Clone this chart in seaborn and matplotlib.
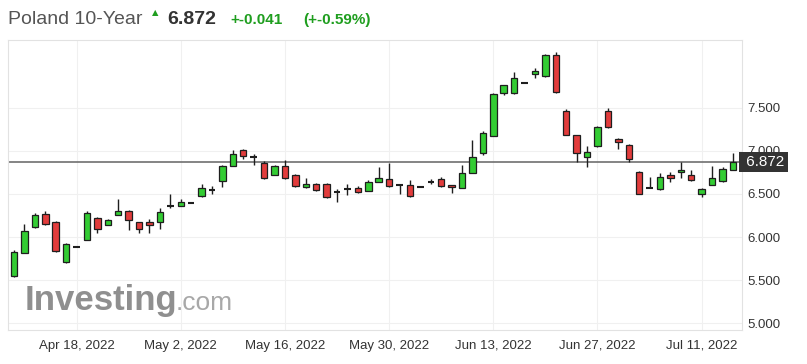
#!/usr/bin/env python3
import pandas as pd
import seaborn as sns
import matplotlib.pyplot as plt

# Daily candles, Poland 10-year yield
opens = [5.547, 5.814, 6.116, 6.267, 6.174, 5.709, 5.884, 5.965, 6.221, 6.140,
         6.256, 6.302, 6.174, 6.174, 6.174, 6.360, 6.360, 6.395, 6.477, 6.547,
         6.651, 6.826, 7.012, 6.930, 6.860, 6.721, 6.826, 6.721, 6.581, 6.616,
         6.616, 6.523, 6.558, 6.570, 6.535, 6.640, 6.674, 6.605, 6.605, 6.581,
         6.640, 6.674, 6.605, 6.570, 6.744, 6.977, 7.174, 7.674, 7.674, 7.791,
         7.895, 7.872, 8.116, 7.465, 7.186, 6.930, 7.058, 7.465, 7.140, 7.070,
         6.756, 6.570, 6.558, 6.721, 6.756, 6.721, 6.500, 6.605, 6.651, 6.779]
highs = [5.849, 6.151, 6.280, 6.302, 6.190, 5.930, 5.884, 6.300, 6.230, 6.205,
         6.442, 6.310, 6.180, 6.209, 6.337, 6.500, 6.442, 6.395, 6.616, 6.593,
         6.835, 7.010, 7.020, 6.965, 6.884, 6.840, 6.895, 6.730, 6.686, 6.625,
         6.625, 6.558, 6.616, 6.593, 6.663, 6.814, 6.860, 6.616, 6.663, 6.581,
         6.674, 6.700, 6.610, 6.837, 7.128, 7.233, 7.670, 7.770, 7.919, 7.791,
         7.965, 8.128, 8.151, 7.490, 7.190, 7.058, 7.285, 7.500, 7.150, 7.080,
         6.770, 6.698, 6.744, 6.756, 6.872, 6.779, 6.570, 6.826, 6.814, 6.977]
lows = [5.535, 5.810, 6.105, 6.140, 5.830, 5.700, 5.884, 5.960, 6.047, 6.135,
        6.250, 6.081, 6.047, 6.047, 6.093, 6.337, 6.355, 6.395, 6.470, 6.500,
        6.580, 6.820, 6.907, 6.837, 6.674, 6.715, 6.680, 6.585, 6.570, 6.540,
        6.455, 6.407, 6.488, 6.515, 6.530, 6.635, 6.585, 6.500, 6.470, 6.581,
        6.616, 6.585, 6.512, 6.565, 6.740, 6.953, 7.170, 7.651, 7.663, 7.791,
        7.849, 7.865, 7.674, 7.180, 6.872, 6.814, 7.050, 7.270, 7.023, 6.872,
        6.495, 6.570, 6.550, 6.640, 6.686, 6.655, 6.465, 6.600, 6.645, 6.775]
closes = [5.826, 6.070, 6.256, 6.151, 5.837, 5.919, 5.884, 6.279, 6.093, 6.198,
          6.302, 6.198, 6.093, 6.140, 6.291, 6.360, 6.407, 6.395, 6.570, 6.547,
          6.826, 6.965, 6.942, 6.930, 6.686, 6.826, 6.686, 6.593, 6.616, 6.547,
          6.465, 6.523, 6.558, 6.523, 6.640, 6.686, 6.593, 6.605, 6.477, 6.581,
          6.640, 6.593, 6.581, 6.744, 6.930, 7.209, 7.663, 7.767, 7.849, 7.791,
          7.930, 8.116, 7.686, 7.186, 6.977, 6.988, 7.279, 7.279, 7.105, 6.907,
          6.500, 6.570, 6.698, 6.686, 6.779, 6.663, 6.558, 6.686, 6.791, 6.872]

tick_dates = ['2022-04-18', '2022-05-02', '2022-05-16', '2022-05-30',
              '2022-06-13', '2022-06-27', '2022-07-11']
tick_labels = ['Apr 18, 2022', 'May 2, 2022', 'May 16, 2022', 'May 30, 2022',
               'Jun 13, 2022', 'Jun 27, 2022', 'Jul 11, 2022']
y_ticks = [5.0, 5.5, 6.0, 6.5, 7.0, 7.5]
last_price = 6.872

df = pd.DataFrame({'open': opens, 'high': highs, 'low': lows, 'close': closes})
df['date'] = pd.bdate_range('2022-04-08', periods=len(df))
df['x'] = range(len(df))
df['bottom'] = df[['open', 'close']].min(axis=1)
df['height'] = (df['close'] - df['open']).abs()

green, red = '#33cc33', '#e23c3c'
df['color'] = ['black' if c == o else (green if c > o else red)
               for o, c in zip(df['open'], df['close'])]

sns.set_theme(style='white')
plt.rcParams['font.family'] = ['Liberation Sans', 'DejaVu Sans']

W, H = 807, 364
fig = plt.figure(figsize=(W / 100, H / 100), dpi=100)
ax = fig.add_axes([8 / W, 34 / H, 734 / W, 290 / H])

tick_pos = df.set_index('date').loc[pd.to_datetime(tick_dates), 'x'].values

# light grid
for t in tick_pos:
    ax.axvline(t, color='#f0f0f0', lw=0.8, zorder=0)
for v in y_ticks:
    ax.axhline(v, color='#f0f0f0', lw=0.8, zorder=0)

# watermark
fig.text(25 / W, 1 - 310 / H, 'Investing', fontsize=25, fontweight='bold',
         color='#8f8f8f', va='baseline', ha='left', zorder=0)
fig.text(176 / W, 1 - 310 / H, '.com', fontsize=19, color='#a8a8a8',
         va='baseline', ha='left', zorder=0)

# candles
bw = 0.62
ax.vlines(df['x'], df['low'], df['high'], color='#1e1e1e', lw=1, zorder=2)
body = df[df['height'] > 0]
ax.bar(body['x'], body['height'], bottom=body['bottom'], width=bw,
       color=body['color'], edgecolor='#1e1e1e', linewidth=0.9, zorder=3)
flat = df[df['height'] == 0]
ax.hlines(flat['open'], flat['x'] - bw / 2, flat['x'] + bw / 2,
          color='#1e1e1e', lw=1.5, zorder=3)

# current price line and label
ax.axhline(last_price, color='#6f6f6f', lw=1.2, zorder=1)
ax.text(1.0, last_price, f' {last_price:.3f}', transform=ax.get_yaxis_transform(),
        ha='left', va='center', color='white', fontsize=11, zorder=10,
        clip_on=False,
        bbox=dict(boxstyle='square,pad=0.22', facecolor='#333333', edgecolor='none'))

ax.set_xlim(-0.58, 69.87)
ax.set_ylim(4.919, 8.29)
ax.set_xticks(tick_pos)
ax.set_xticklabels(tick_labels)
ax.set_yticks(y_ticks)
ax.set_yticklabels([f'{v:.3f}' for v in y_ticks])
ax.yaxis.tick_right()
ax.tick_params(axis='x', length=0, pad=7, labelsize=9.5, labelcolor='#333333')
ax.tick_params(axis='y', length=0, pad=4, labelsize=9.5, labelcolor='#333333')
for s in ax.spines.values():
    s.set_color('#e2e2e2')
    s.set_linewidth(0.8)

# header
fig.text(8 / W, 1 - 24 / H, 'Poland 10-Year', fontsize=14, color='#555555',
         va='baseline', ha='left')
fig.text(152 / W, 1 - 15 / H, '\u25b2', fontsize=6, color='#1f9e1f',
         va='baseline', ha='left', family=['DejaVu Sans'])
fig.text(167 / W, 1 - 24 / H, f'{last_price:.3f}', fontsize=14, fontweight='bold',
         color='#333333', va='baseline', ha='left')
fig.text(230 / W, 1 - 24 / H, '+-0.041', fontsize=11, fontweight='bold',
         color='#1f9e1f', va='baseline', ha='left')
fig.text(303 / W, 1 - 24 / H, '(+-0.59%)', fontsize=11, fontweight='bold',
         color='#1f9e1f', va='baseline', ha='left')

fig.savefig('out.png', dpi=100)
